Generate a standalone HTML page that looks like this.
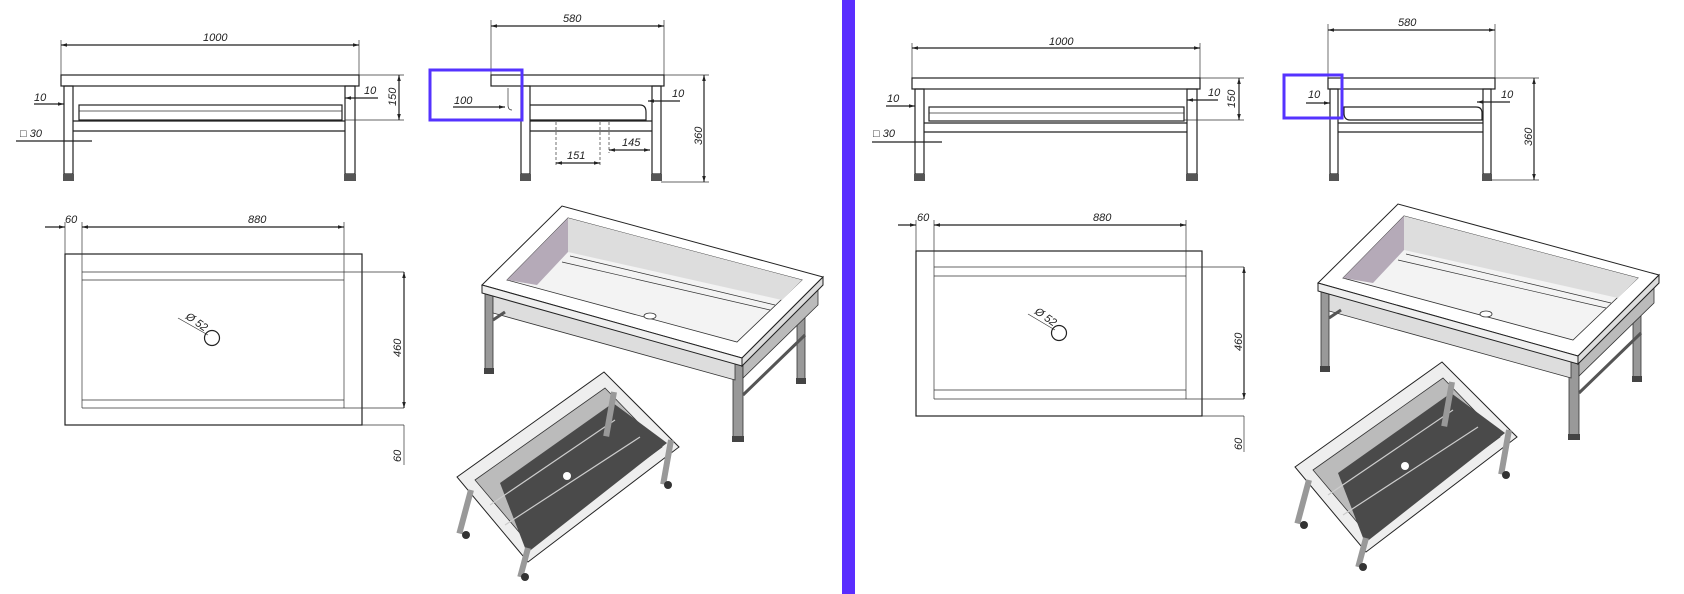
<!DOCTYPE html>
<html><head><meta charset="utf-8"><style>
html,body{margin:0;padding:0;background:#fff;width:1684px;height:594px;overflow:hidden}
svg{display:block}
text{font-family:"Liberation Sans",sans-serif;font-style:italic;font-size:11px;fill:#222}
.l{stroke:#222;fill:none;stroke-width:1.2}
.t{stroke:#333;fill:none;stroke-width:0.7}
</style></head><body>
<svg width="1684" height="594" viewBox="0 0 1684 594" xmlns="http://www.w3.org/2000/svg">
<defs>
<marker id="a" viewBox="0 0 10 10" refX="10" refY="5" markerWidth="7" markerHeight="5" orient="auto-start-reverse"><path d="M0,2L10,5L0,8z" fill="#222"/></marker>
<g id="sink">
 <!-- legs -->
 <rect x="485" y="288" width="8" height="82" fill="#999" stroke="#333" stroke-width="0.8"/>
 <rect x="484" y="368" width="10" height="6" fill="#444"/>
 <rect x="733" y="350" width="10" height="88" fill="#999" stroke="#333" stroke-width="0.8"/>
 <rect x="732" y="436" width="12" height="6" fill="#444"/>
 <rect x="797" y="295" width="8" height="85" fill="#999" stroke="#333" stroke-width="0.8"/>
 <rect x="796" y="378" width="10" height="6" fill="#444"/>
 <!-- apron -->
 <polygon points="493,293 735,360 735,380 493,313" fill="#ddd" stroke="#333" stroke-width="0.8"/>
 <polygon points="743,358 818,285 818,305 743,378" fill="#bbb" stroke="#333" stroke-width="0.8"/>
 <line x1="743" y1="395" x2="805" y2="335" stroke="#555" stroke-width="3"/>
 <line x1="493" y1="320" x2="505" y2="312" stroke="#555" stroke-width="3"/>
 <!-- slab -->
 <polygon points="482,285 562,206 823,277 742,358" fill="#fff" stroke="#222" stroke-width="1"/>
 <polygon points="482,285 742,358 742,366 482,293" fill="#eee" stroke="#222" stroke-width="1"/>
 <polygon points="742,358 823,277 823,285 742,366" fill="#ddd" stroke="#222" stroke-width="1"/>
 <!-- basin -->
 <polygon points="507,280 568,218 802,280 737,342" fill="#f3f3f3" stroke="#333" stroke-width="0.8"/>
 <polygon points="507,280 568,218 568,252 537,285" fill="#b5aab8"/>
 <polygon points="568,218 802,280 782,300 568,252" fill="#ddd"/>
 <line x1="570" y1="256" x2="775" y2="305" class="t"/>
 <line x1="562" y1="262" x2="770" y2="310" class="t"/>
 <ellipse cx="650" cy="316" rx="6" ry="3" fill="#fff" stroke="#333" stroke-width="0.8"/>
</g>
<g id="tray">
 <polygon points="457,477 604,372 679,447 528,562" fill="#eee" stroke="#222" stroke-width="1"/>
 <polygon points="475,480 605,388 662,447 530,545" fill="#bbb" stroke="#333" stroke-width="0.8"/>
 <polygon points="500,483 613,403 667,443 527,553" fill="#4a4a4a"/>
 <line x1="490" y1="505" x2="615" y2="420" stroke="#ccc" stroke-width="1.2"/>
 <line x1="505" y1="525" x2="640" y2="437" stroke="#ccc" stroke-width="1.2"/>
 <circle cx="567" cy="476" r="4" fill="#fff"/>
 <rect x="611" y="392" width="6" height="45" fill="#999" transform="rotate(10 614 392)"/>
 <rect x="468" y="490" width="6" height="45" fill="#999" transform="rotate(15 471 490)"/>
 <rect x="668" y="440" width="6" height="45" fill="#999" transform="rotate(10 671 440)"/>
 <rect x="525" y="548" width="6" height="30" fill="#999" transform="rotate(15 528 548)"/>
 <circle cx="466" cy="535" r="4" fill="#333"/><circle cx="668" cy="485" r="4" fill="#333"/><circle cx="525" cy="577" r="4" fill="#333"/>
</g>
</defs>

<!-- ===== LEFT PANEL ===== -->
<!-- front view -->
<line x1="61" y1="45" x2="359" y2="45" class="l" marker-start="url(#a)" marker-end="url(#a)"/>
<line x1="61" y1="40" x2="61" y2="75" class="t"/><line x1="359" y1="40" x2="359" y2="75" class="t"/>
<text x="203" y="41">1000</text>
<rect x="61" y="75" width="298" height="11" class="l"/>
<rect x="64" y="86" width="9" height="88" class="l"/><rect x="345" y="86" width="10" height="88" class="l"/>
<rect x="63" y="174" width="11" height="7" fill="#555"/><rect x="344" y="174" width="12" height="7" fill="#555"/>
<rect x="79" y="105" width="263" height="15" class="l"/><line x1="79" y1="111" x2="342" y2="111" class="t"/>
<line x1="73" y1="121" x2="345" y2="121" class="l"/><line x1="73" y1="131" x2="345" y2="131" class="l"/>
<line x1="399" y1="75" x2="399" y2="120" class="l" marker-start="url(#a)" marker-end="url(#a)"/>
<line x1="359" y1="75" x2="404" y2="75" class="t"/><line x1="345" y1="120" x2="404" y2="120" class="t"/>
<text transform="translate(396,106) rotate(-90)">150</text>
<text x="34" y="101">10</text><line x1="34" y1="104" x2="64" y2="104" class="l" marker-end="url(#a)"/>
<text x="364" y="94">10</text><line x1="345" y1="98" x2="378" y2="98" class="l" marker-start="url(#a)"/>
<text x="20" y="137">□ 30</text><line x1="16" y1="141" x2="92" y2="141" class="l"/>
<!-- side view -->
<line x1="491" y1="26" x2="664" y2="26" class="l" marker-start="url(#a)" marker-end="url(#a)"/>
<line x1="491" y1="20" x2="491" y2="75" class="t"/><line x1="664" y1="20" x2="664" y2="75" class="t"/>
<text x="563" y="22">580</text>
<rect x="491" y="75" width="173" height="11" class="l"/>
<rect x="521" y="86" width="9" height="88" class="l"/><rect x="652" y="86" width="9" height="88" class="l"/>
<rect x="520" y="174" width="11" height="7" fill="#555"/><rect x="651" y="174" width="11" height="7" fill="#555"/>
<path d="M530,105 H640 Q646,105 646,112 L646,120 H530" class="l"/>
<line x1="530" y1="121" x2="652" y2="121" class="l"/><line x1="530" y1="131" x2="652" y2="131" class="l"/>
<line x1="704" y1="75" x2="704" y2="182" class="l" marker-start="url(#a)" marker-end="url(#a)"/>
<line x1="664" y1="75" x2="709" y2="75" class="t"/><line x1="661" y1="182" x2="709" y2="182" class="t"/>
<text transform="translate(702,145) rotate(-90)">360</text>
<text x="672" y="97">10</text><line x1="648" y1="101" x2="680" y2="101" class="l" marker-start="url(#a)"/>
<text x="567" y="159">151</text><line x1="556" y1="163" x2="600" y2="163" class="l" marker-start="url(#a)" marker-end="url(#a)"/>
<line x1="556" y1="122" x2="556" y2="166" class="t" stroke-dasharray="3,2"/><line x1="600" y1="122" x2="600" y2="166" class="t" stroke-dasharray="3,2"/>
<text x="622" y="146">145</text><line x1="609" y1="150" x2="650" y2="150" class="l" marker-start="url(#a)" marker-end="url(#a)"/>
<line x1="609" y1="122" x2="609" y2="153" class="t" stroke-dasharray="3,2"/>
<text x="454" y="104">100</text><line x1="453" y1="107" x2="505" y2="107" class="l" marker-end="url(#a)"/>
<path d="M508,88 V105 Q508,110 512,110" class="t"/>
<rect x="430" y="70" width="92" height="50" fill="none" stroke="#5533ff" stroke-width="3"/>
<!-- top view -->
<rect x="65" y="254" width="297" height="171" class="l"/>
<line x1="82" y1="254" x2="82" y2="408" class="t"/><line x1="344" y1="254" x2="344" y2="408" class="t"/>
<line x1="82" y1="272" x2="404" y2="272" class="t"/><line x1="82" y1="280" x2="344" y2="280" class="t"/>
<line x1="82" y1="400" x2="344" y2="400" class="t"/><line x1="82" y1="408" x2="404" y2="408" class="t"/>
<line x1="362" y1="425" x2="404" y2="425" class="t"/>
<line x1="45" y1="227" x2="65" y2="227" class="l" marker-end="url(#a)"/>
<line x1="82" y1="227" x2="344" y2="227" class="l" marker-start="url(#a)" marker-end="url(#a)"/>
<line x1="65" y1="222" x2="65" y2="254" class="t"/><line x1="82" y1="222" x2="82" y2="254" class="t"/><line x1="344" y1="222" x2="344" y2="254" class="t"/>
<text x="65" y="223">60</text><text x="248" y="223">880</text>
<line x1="404" y1="272" x2="404" y2="408" class="l" marker-start="url(#a)" marker-end="url(#a)"/>
<line x1="404" y1="425" x2="404" y2="465" class="t"/>
<text transform="translate(401,357) rotate(-90)">460</text>
<text transform="translate(401,462) rotate(-90)">60</text>
<circle cx="212" cy="338" r="7.5" class="l"/>
<line x1="178" y1="318" x2="208" y2="335" class="t"/>
<text transform="translate(185,318) rotate(35)">Ø 52</text>
<use href="#sink"/><use href="#tray"/>

<!-- divider -->
<rect x="842" y="0" width="13" height="594" fill="#5a2dff"/>

<!-- ===== RIGHT PANEL ===== -->
<line x1="912" y1="48" x2="1200" y2="48" class="l" marker-start="url(#a)" marker-end="url(#a)"/>
<line x1="912" y1="43" x2="912" y2="78" class="t"/><line x1="1200" y1="43" x2="1200" y2="78" class="t"/>
<text x="1049" y="45">1000</text>
<rect x="912" y="78" width="288" height="11" class="l"/>
<rect x="915" y="89" width="9" height="85" class="l"/><rect x="1187" y="89" width="10" height="85" class="l"/>
<rect x="914" y="174" width="11" height="7" fill="#555"/><rect x="1186" y="174" width="12" height="7" fill="#555"/>
<rect x="929" y="107" width="255" height="14" class="l"/><line x1="929" y1="113" x2="1184" y2="113" class="t"/>
<line x1="924" y1="123" x2="1187" y2="123" class="l"/><line x1="924" y1="132" x2="1187" y2="132" class="l"/>
<line x1="1239" y1="78" x2="1239" y2="120" class="l" marker-start="url(#a)" marker-end="url(#a)"/>
<line x1="1200" y1="78" x2="1244" y2="78" class="t"/><line x1="1184" y1="120" x2="1244" y2="120" class="t"/>
<text transform="translate(1235,108) rotate(-90)">150</text>
<text x="887" y="102">10</text><line x1="886" y1="106" x2="915" y2="106" class="l" marker-end="url(#a)"/>
<text x="1208" y="96">10</text><line x1="1187" y1="100" x2="1218" y2="100" class="l" marker-start="url(#a)"/>
<text x="873" y="137">□ 30</text><line x1="872" y1="142" x2="942" y2="142" class="l"/>
<!-- side -->
<line x1="1328" y1="30" x2="1495" y2="30" class="l" marker-start="url(#a)" marker-end="url(#a)"/>
<line x1="1328" y1="24" x2="1328" y2="78" class="t"/><line x1="1495" y1="24" x2="1495" y2="78" class="t"/>
<text x="1398" y="26">580</text>
<rect x="1328" y="78" width="167" height="11" class="l"/>
<rect x="1330" y="89" width="8" height="85" class="l"/><rect x="1483" y="89" width="8" height="85" class="l"/>
<rect x="1329" y="174" width="10" height="7" fill="#555"/><rect x="1482" y="174" width="10" height="7" fill="#555"/>
<path d="M1344,107 H1476 Q1482,107 1482,113 L1482,120 H1350 Q1344,120 1344,113 Z" class="l"/>
<line x1="1338" y1="123" x2="1483" y2="123" class="l"/><line x1="1338" y1="132" x2="1483" y2="132" class="l"/>
<line x1="1534" y1="78" x2="1534" y2="180" class="l" marker-start="url(#a)" marker-end="url(#a)"/>
<line x1="1495" y1="78" x2="1539" y2="78" class="t"/><line x1="1491" y1="180" x2="1539" y2="180" class="t"/>
<text transform="translate(1532,146) rotate(-90)">360</text>
<text x="1501" y="98">10</text><line x1="1477" y1="102" x2="1510" y2="102" class="l" marker-start="url(#a)"/>
<text x="1308" y="98">10</text><line x1="1306" y1="103" x2="1330" y2="103" class="l" marker-end="url(#a)"/>
<rect x="1284" y="75" width="58" height="43" fill="none" stroke="#5533ff" stroke-width="3"/>
<!-- top view -->
<rect x="916" y="251" width="286" height="165" class="l"/>
<line x1="934" y1="251" x2="934" y2="399" class="t"/><line x1="1186" y1="251" x2="1186" y2="399" class="t"/>
<line x1="934" y1="267" x2="1244" y2="267" class="t"/><line x1="934" y1="276" x2="1186" y2="276" class="t"/>
<line x1="934" y1="390" x2="1186" y2="390" class="t"/><line x1="934" y1="399" x2="1244" y2="399" class="t"/>
<line x1="1202" y1="416" x2="1244" y2="416" class="t"/>
<line x1="898" y1="225" x2="916" y2="225" class="l" marker-end="url(#a)"/>
<line x1="934" y1="225" x2="1186" y2="225" class="l" marker-start="url(#a)" marker-end="url(#a)"/>
<line x1="916" y1="220" x2="916" y2="251" class="t"/><line x1="934" y1="220" x2="934" y2="251" class="t"/><line x1="1186" y1="220" x2="1186" y2="251" class="t"/>
<text x="917" y="221">60</text><text x="1093" y="221">880</text>
<line x1="1244" y1="267" x2="1244" y2="399" class="l" marker-start="url(#a)" marker-end="url(#a)"/>
<line x1="1244" y1="416" x2="1244" y2="452" class="t"/>
<text transform="translate(1242,351) rotate(-90)">460</text>
<text transform="translate(1242,450) rotate(-90)">60</text>
<circle cx="1059" cy="333" r="7.5" class="l"/>
<line x1="1028" y1="314" x2="1055" y2="330" class="t"/>
<text transform="translate(1034,313) rotate(35)">Ø 52</text>
<use href="#sink" transform="translate(836,-2)"/>
<use href="#tray" transform="translate(838,-10)"/>
</svg>
</body></html>
